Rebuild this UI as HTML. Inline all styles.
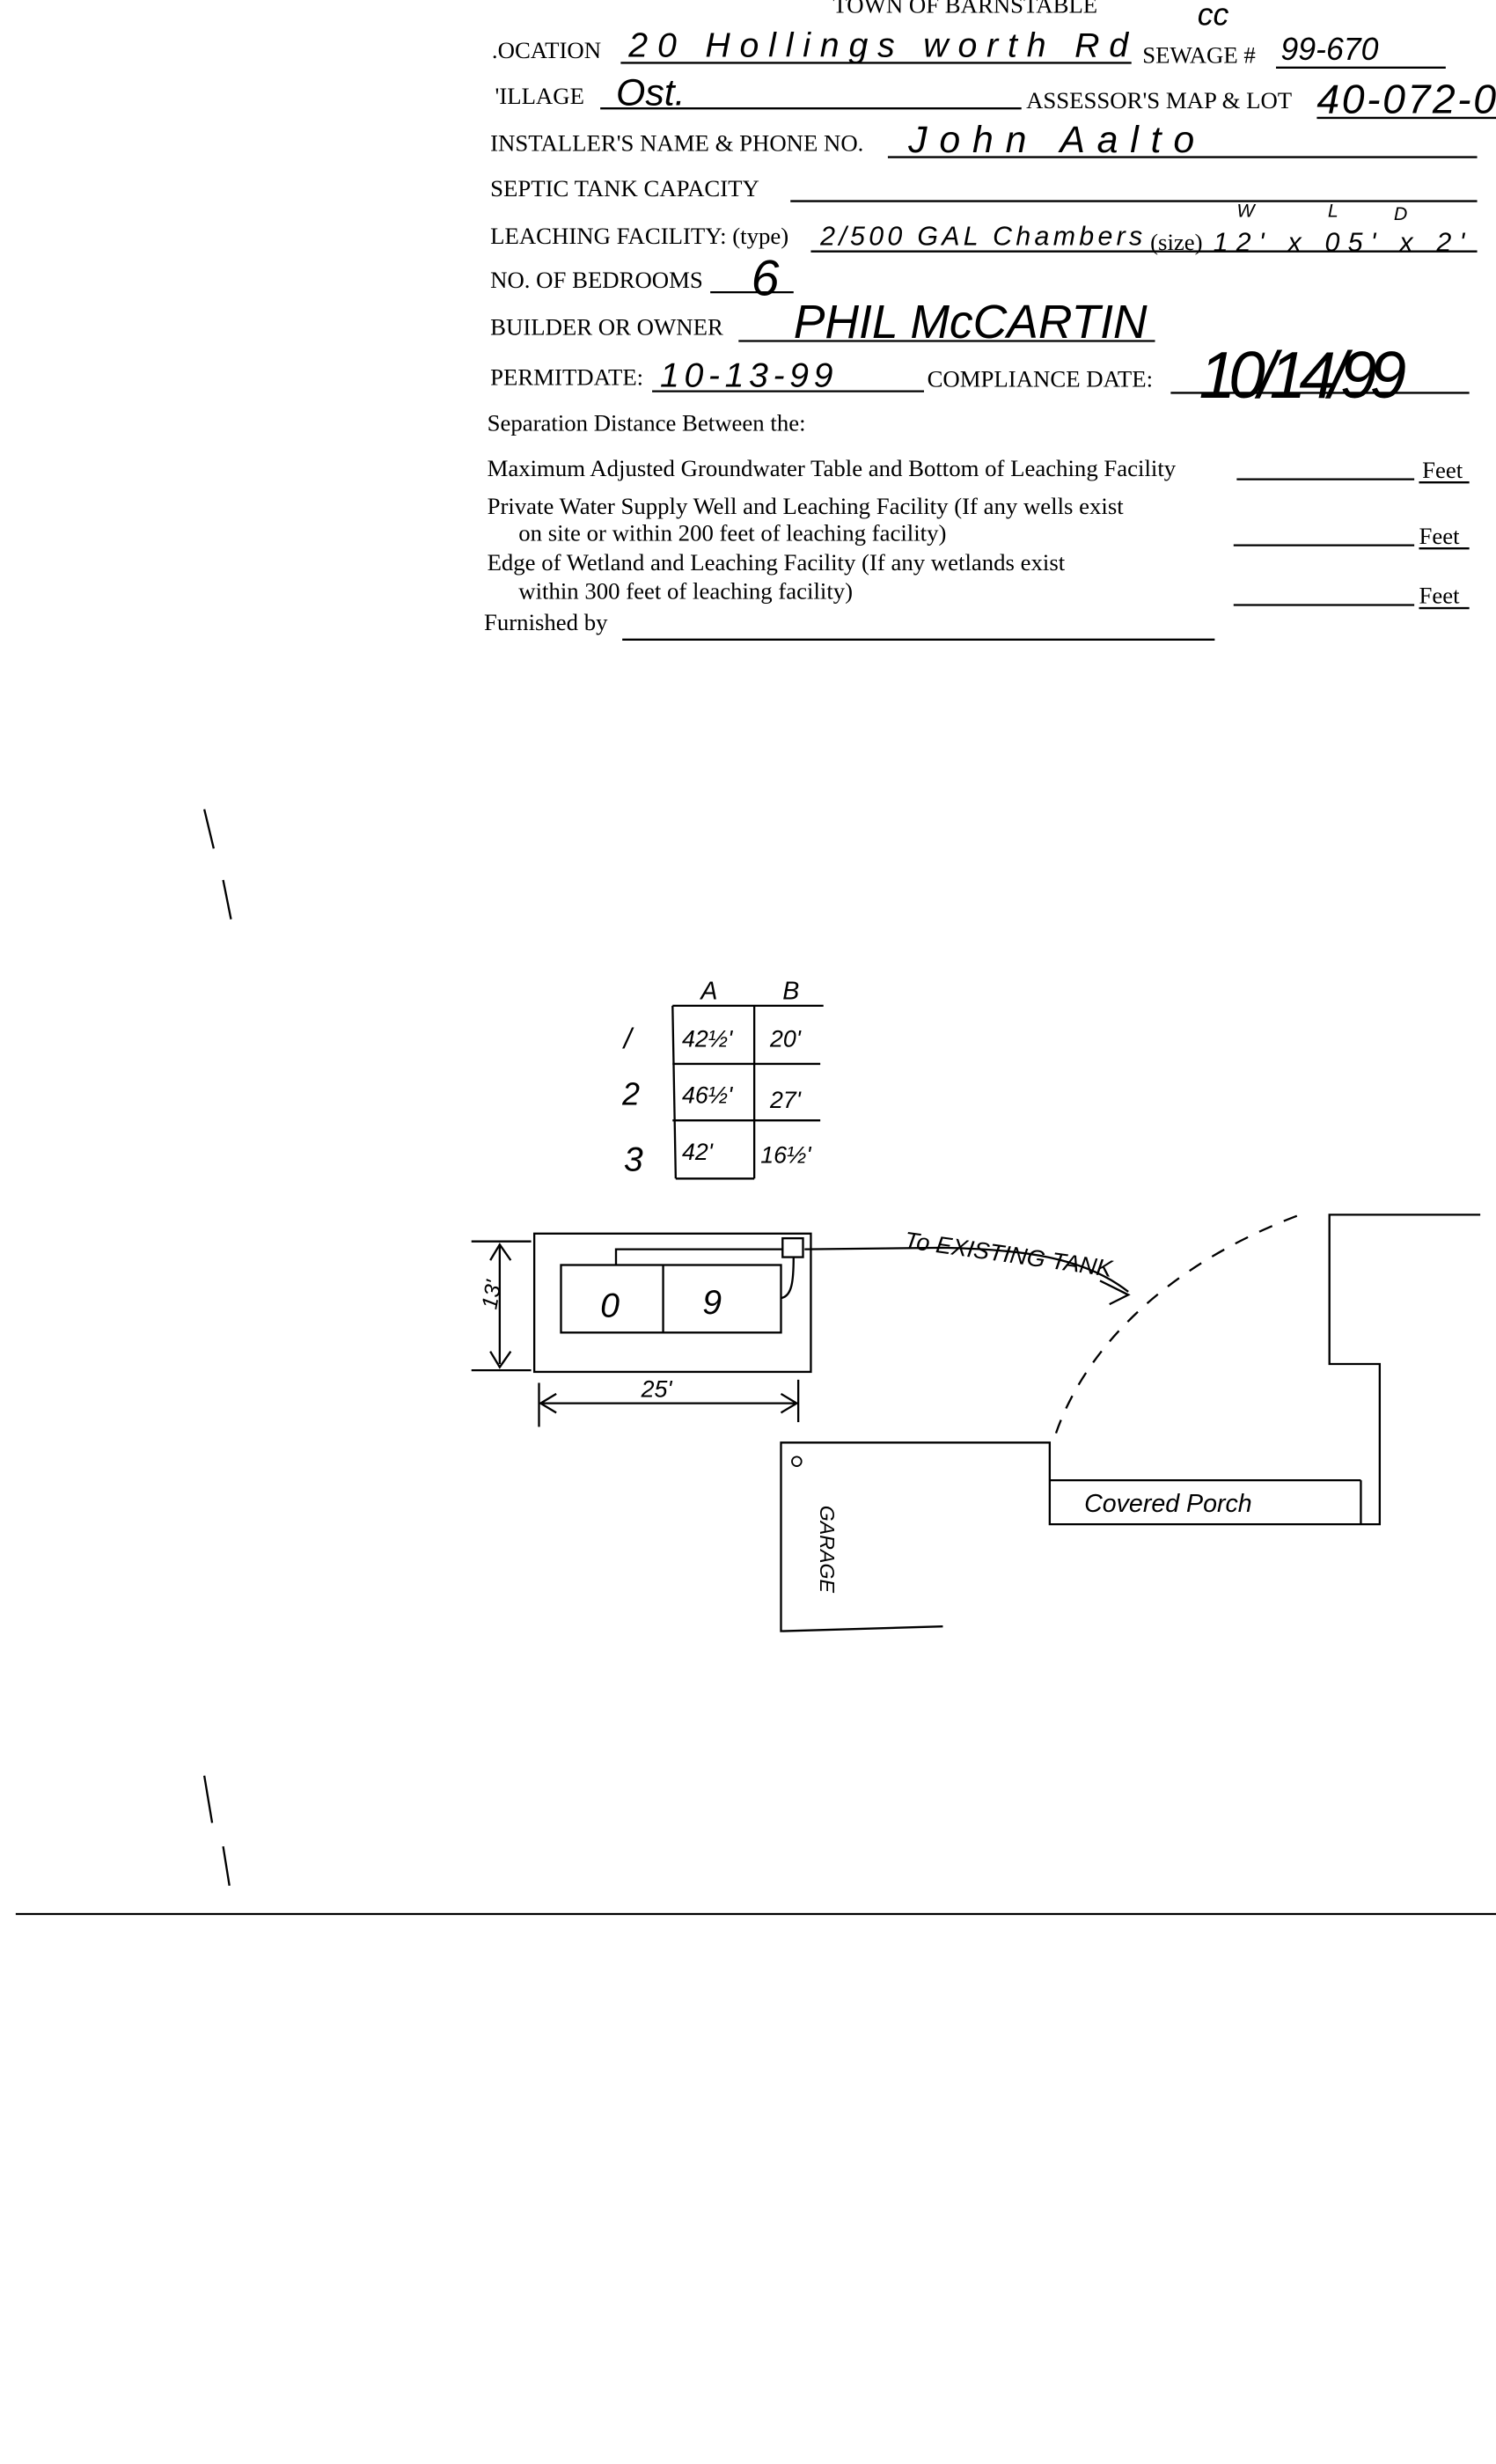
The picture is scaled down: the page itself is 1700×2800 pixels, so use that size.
<!DOCTYPE html>
<html><head><meta charset="utf-8"><style>
html,body{margin:0;padding:0;background:#fff;}
svg{display:block;}
.p{font-family:"Liberation Serif",serif;font-size:15px;fill:#000;}
.h{font-family:"Liberation Sans",sans-serif;fill:#000;font-style:italic;}
line,polyline,path,rect{stroke:#000;fill:none;stroke-width:1.3;}
</style></head><body>
<svg width="1700" height="2800" viewBox="0 0 952 1568" preserveAspectRatio="none" xmlns="http://www.w3.org/2000/svg">
<rect x="0" y="0" width="952" height="1568" style="fill:#fff;stroke:none"/>
<text class="p" x="530" y="8">TOWN OF BARNSTABLE</text>
<text class="h" x="762" y="16" font-size="20">cc</text>

<text class="p" x="313" y="37">.OCATION</text>
<text class="h" x="400" y="36" font-size="22" textLength="318">20 Hollings worth Rd</text>
<line x1="395" y1="40" x2="720" y2="40"/>
<text class="p" x="727" y="40">SEWAGE #</text>
<text class="h" x="815" y="38" font-size="20">99-670</text>
<line x1="812" y1="43" x2="920" y2="43"/>

<text class="p" x="315" y="66">'ILLAGE</text>
<text class="h" x="392" y="67" font-size="24">Ost.</text>
<line x1="382" y1="69" x2="650" y2="69"/>
<text class="p" x="653" y="69">ASSESSOR'S MAP &amp; LOT</text>
<text class="h" x="838" y="72" font-size="26" textLength="114">40-072-0</text>
<line x1="838" y1="75" x2="952" y2="75"/>

<text class="p" x="312" y="96">INSTALLER'S NAME &amp; PHONE NO.</text>
<text class="h" x="578" y="97" font-size="24" textLength="182">John Aalto</text>
<line x1="565" y1="100" x2="940" y2="100"/>

<text class="p" x="312" y="125">SEPTIC TANK CAPACITY</text>
<line x1="503" y1="128" x2="940" y2="128"/>

<text class="h" x="787" y="138" font-size="12">W</text>
<text class="h" x="845" y="138" font-size="12">L</text>
<text class="h" x="887" y="140" font-size="12">D</text>
<text class="p" x="312" y="155">LEACHING FACILITY: (type)</text>
<text class="h" x="522" y="156" font-size="17" textLength="205">2/500 GAL Chambers</text>
<text class="p" x="732" y="159">(size)</text>
<text class="h" x="772" y="160" font-size="17" textLength="160">12' x 05' x 2'</text>
<line x1="516" y1="160" x2="940" y2="160"/>

<text class="p" x="312" y="183">NO. OF BEDROOMS</text>
<text class="h" x="478" y="188" font-size="32">6</text>
<line x1="452" y1="186" x2="505" y2="186"/>

<text class="p" x="312" y="213">BUILDER OR OWNER</text>
<text class="h" x="505" y="215" font-size="30" textLength="225">PHIL McCARTIN</text>
<line x1="470" y1="217" x2="735" y2="217"/>

<text class="p" x="312" y="245">PERMITDATE:</text>
<text class="h" x="420" y="246" font-size="22" textLength="110">10-13-99</text>
<line x1="415" y1="249" x2="588" y2="249"/>
<text class="p" x="590" y="246">COMPLIANCE DATE:</text>
<text class="h" x="763" y="253" font-size="42" textLength="132">10/14/99</text>
<line x1="745" y1="250" x2="935" y2="250"/>

<text class="p" x="310" y="274">Separation Distance Between the:</text>
<text class="p" x="310" y="303">Maximum Adjusted Groundwater Table and Bottom of Leaching Facility</text>
<line x1="787" y1="305" x2="900" y2="305"/><line x1="903" y1="307" x2="935" y2="307"/>
<text class="p" x="905" y="304">Feet</text>
<text class="p" x="310" y="327">Private Water Supply Well and Leaching Facility  (If any wells exist</text>
<text class="p" x="330" y="344">on site or within 200 feet of leaching facility)</text>
<line x1="785" y1="347" x2="900" y2="347"/><line x1="903" y1="349" x2="935" y2="349"/>
<text class="p" x="903" y="346">Feet</text>
<text class="p" x="310" y="363">Edge of Wetland and Leaching Facility (If any wetlands exist</text>
<text class="p" x="330" y="381">within 300 feet of leaching facility)</text>
<line x1="785" y1="385" x2="900" y2="385"/><line x1="903" y1="387" x2="935" y2="387"/>
<text class="p" x="903" y="384">Feet</text>
<text class="p" x="308" y="401">Furnished by</text>
<line x1="396" y1="407" x2="773" y2="407"/>

<!-- table -->
<text class="h" x="446" y="636" font-size="16">A</text>
<text class="h" x="498" y="636" font-size="16">B</text>
<line x1="428" y1="640" x2="524" y2="640"/>
<line x1="428" y1="677" x2="522" y2="677"/>
<line x1="428" y1="713" x2="522" y2="713"/>
<line x1="430" y1="750" x2="480" y2="750"/>
<line x1="428" y1="640" x2="430" y2="750"/>
<line x1="480" y1="640" x2="480" y2="750"/>
<text class="h" x="397" y="667" font-size="18">/</text>
<text class="h" x="396" y="703" font-size="20">2</text>
<text class="h" x="397" y="745" font-size="22">3</text>
<text class="h" x="434" y="666" font-size="15">42½'</text>
<text class="h" x="490" y="666" font-size="15">20'</text>
<text class="h" x="434" y="702" font-size="15">46½'</text>
<text class="h" x="490" y="705" font-size="15">27'</text>
<text class="h" x="434" y="738" font-size="15">42'</text>
<text class="h" x="484" y="740" font-size="15">16½'</text>

<!-- leaching field -->
<rect x="340" y="785" width="176" height="88"/>
<rect x="357" y="805" width="140" height="43"/>
<line x1="422" y1="805" x2="422" y2="848"/>
<text class="h" x="382" y="838" font-size="22">0</text>
<text class="h" x="447" y="836" font-size="22">9</text>
<rect x="498" y="788" width="13" height="12"/>
<polyline points="392,805 392,795 498,795"/>
<path d="M505,800 C505,815 504,825 497,826"/>
<path d="M512,795 L600,794 C650,795 690,800 718,822"/>
<polyline points="700,815 718,824 706,830"/>
<text class="h" x="575" y="794" font-size="15" transform="rotate(8 575 794)">To EXISTING TANK</text>
<!-- 13' -->
<line x1="300" y1="790" x2="338" y2="790"/>
<line x1="300" y1="872" x2="338" y2="872"/>
<line x1="318" y1="793" x2="318" y2="868"/>
<polyline points="312,802 318,792 325,802"/>
<polyline points="312,860 318,870 325,860"/>
<text class="h" x="306" y="842" font-size="14" transform="rotate(-80 306 832)">13'</text>
<!-- 25' -->
<line x1="343" y1="880" x2="343" y2="908"/>
<line x1="508" y1="878" x2="508" y2="905"/>
<line x1="345" y1="893" x2="506" y2="893"/>
<polyline points="354,887 344,893 354,899"/>
<polyline points="497,887 507,893 497,899"/>
<text class="h" x="408" y="889" font-size="15">25'</text>
<!-- dashed arc -->
<path d="M672,912 C690,860 740,805 830,772" stroke-dasharray="9,8"/>
<!-- house -->
<polyline points="942,773 846,773 846,868 878,868 878,970 668,970 668,918 497,918 497,1038 600,1035"/>
<line x1="668" y1="942" x2="866" y2="942"/>
<line x1="866" y1="942" x2="866" y2="970"/>
<text class="h" x="690" y="962" font-size="16">Covered Porch</text>
<text class="h" x="522" y="958" font-size="13" transform="rotate(90 522 958)">GARAGE</text>
<circle cx="507" cy="930" r="3" style="stroke:#000;fill:none"/>
<!-- stray marks -->
<line x1="130" y1="515" x2="136" y2="540"/>
<line x1="142" y1="560" x2="147" y2="585"/>
<line x1="130" y1="1130" x2="135" y2="1160"/>
<line x1="142" y1="1175" x2="146" y2="1200"/>
<line x1="10" y1="1218" x2="952" y2="1218"/>
</svg>
</body></html>
